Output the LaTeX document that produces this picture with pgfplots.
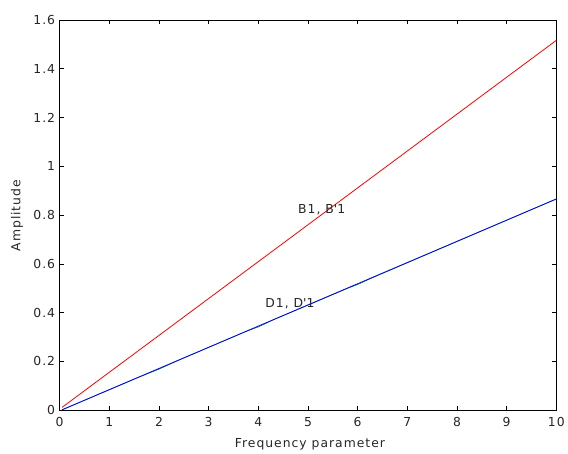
\documentclass[border=0pt]{standalone}
\usepackage{fontspec}
\setmainfont{DejaVu Sans}[LetterSpace=8]
\usepackage{pgfplots}
\pgfplotsset{compat=1.18}
\newcommand{\rf}{\fontsize{12.5}{15}\selectfont}
\begin{document}
\begin{tikzpicture}[x=1bp,y=1bp]
\begin{axis}[
  scale only axis,
  width=500bp, height=393bp,
  xmin=0, xmax=10, ymin=0, ymax=1.6,
  xtick={0,1,...,10},
  ytick={0,0.2,...,1.6},
  yticklabels={0,0.2,0.4,0.6,0.8,1,1.2,1.4,1.6},
  tick align=inside,
  major tick length=4bp,
  axis line style={black, line width=0.6bp},
  tick style={black, line width=0.6bp},
  tick label style={font=\rf, text=black!85},
  /pgf/number format/assume math mode=true,
  xticklabel style={yshift=-4bp},
  yticklabel style={xshift=-1bp},
  clip=false,
]
\addplot[green!50!black, line width=0.6bp] coordinates {(0.05,0.002) (1.6,0.136) (2,0.1685) (2.4,0.2055) (3.8,0.327) (4,0.3415) (4.3,0.3705) (5.8,0.500) (6,0.5155) (6.3,0.5435) (10,0.866)};
\addplot[red, line width=0.8bp] coordinates {(0.05,0.012) (10,1.516)};
\addplot[blue, line width=0.8bp] coordinates {(0.05,0.002) (10,0.866)};
\node[anchor=west, font=\rf, text=black!85, inner sep=0pt] at (axis cs:4.80,0.823) {B1, B\textquotesingle1};
\node[anchor=west, font=\rf, text=black!85, inner sep=0pt] at (axis cs:4.14,0.435) {D1, D\textquotesingle1};
\end{axis}
\node[font=\rf, text=black!85] at (252,-34) {Frequency parameter};
\node[rotate=90, font=\rf, text=black!85] at (-43,196) {Amplitude};
\path[use as bounding box] (-60,-43) rectangle (508,413);
\end{tikzpicture}
\end{document}
